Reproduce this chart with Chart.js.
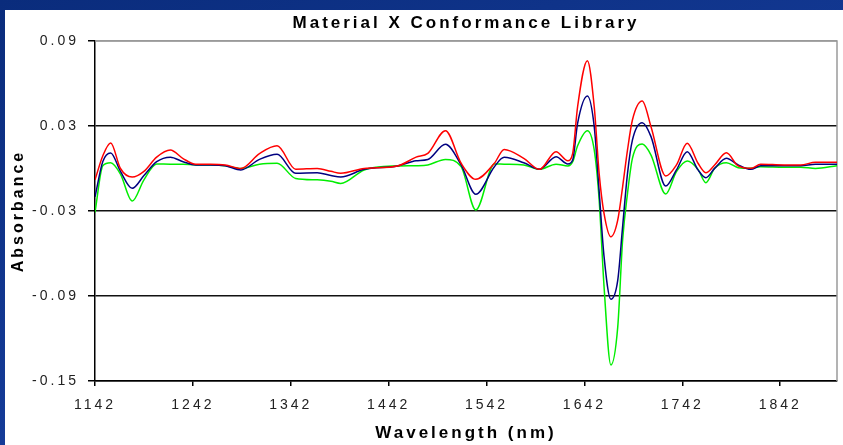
<!DOCTYPE html>
<html>
<head>
<meta charset="utf-8">
<script src="https://cdn.jsdelivr.net/npm/chart.js@4/dist/chart.umd.min.js"></script>
<style>
  html, body { margin: 0; padding: 0; }
  body {
    width: 843px; height: 445px; overflow: hidden; position: relative;
    background: linear-gradient(160deg, #0a2c7c 0%, #143a96 55%, #2148aa 100%);
  }
  #panel { position: absolute; left: 5px; top: 10px; right: 0; bottom: 0; background: #fff; }
  #c { position: absolute; left: 0; top: 0; }
</style>
</head>
<body>
<div id="panel"></div>
<canvas id="c" width="843" height="445"></canvas>
<script>
var wavelengths = [1142, 1150, 1158, 1168, 1180, 1192, 1205, 1219, 1232, 1245,
  1260, 1275, 1291, 1310, 1328, 1347, 1369, 1383, 1393, 1417,
  1451, 1470, 1482, 1500, 1516, 1531, 1550, 1560, 1580, 1596,
  1613, 1625, 1630, 1635, 1645, 1652, 1657, 1662, 1669, 1676,
  1681, 1686, 1691, 1701, 1710, 1725, 1736, 1747, 1758, 1766,
  1775, 1787, 1799, 1812, 1822, 1846, 1863, 1878, 1900];

var redSeries = [-0.008, 0.009, 0.018, 0.000, -0.006, -0.002, 0.008, 0.013, 0.007, 0.003,
  0.003, 0.0025, 0.000, 0.0105, 0.016, -0.0005, 0.000, -0.002, -0.0034, 0.000,
  0.0018, 0.008, 0.0107, 0.0267, 0.0037, -0.0076, 0.0037, 0.0135, 0.0072, -0.0006,
  0.0119, 0.0055, 0.0107, 0.0436, 0.0761, 0.0436, -0.0034, -0.0316, -0.0481, -0.0364,
  -0.0129, 0.0131, 0.0342, 0.0476, 0.0295, -0.0053, 0.0025, 0.0178, 0.0037, -0.003,
  0.0025, 0.0111, 0.0018, 0.0001, 0.003, 0.0025, 0.0025, 0.0044, 0.0044];

var blueSeries = [-0.020, 0.005, 0.011, -0.002, -0.014, -0.005, 0.0048, 0.008, 0.0048, 0.0025,
  0.0025, 0.002, -0.001, 0.0064, 0.010, -0.0034, -0.003, -0.005, -0.006, -0.0006,
  0.0018, 0.0055, 0.0064, 0.0171, 0.0025, -0.0182, 0.0013, 0.0079, 0.0041, -0.0006,
  0.0083, 0.0032, 0.006, 0.0319, 0.0512, 0.0295, -0.016, -0.062, -0.0923, -0.079,
  -0.041, -0.0034, 0.020, 0.0323, 0.0225, -0.0124, -0.001, 0.0119, -0.001, -0.0065,
  0.0001, 0.0072, 0.0025, -0.0006, 0.002, 0.002, 0.002, 0.003, 0.003];

var greenSeries = [-0.031, 0.002, 0.004, -0.004, -0.023, -0.008, 0.0032, 0.003, 0.003, 0.0025,
  0.0025, 0.002, 0.000, 0.003, 0.0037, -0.007, -0.008, -0.009, -0.0105, -0.001,
  0.0018, 0.002, 0.0025, 0.0064, 0.0013, -0.0293, 0.0032, 0.003, 0.0025, -0.0006,
  0.003, 0.0018, 0.0048, 0.016, 0.0267, 0.0131, -0.022, -0.083, -0.1387, -0.112,
  -0.0505, -0.0175, 0.0072, 0.0173, 0.0095, -0.018, -0.0022, 0.0053, -0.0006, -0.010,
  0.0001, 0.0041, 0.0006, 0.0001, 0.0013, 0.0009, 0.0009, 0.000, 0.002];

var xTicks = [1142, 1242, 1342, 1442, 1542, 1642, 1742, 1842];
var yTicks = [-0.15, -0.09, -0.03, 0.03, 0.09];

function points(vals) {
  return wavelengths.map(function (w, i) { return { x: w, y: vals[i] }; });
}

Chart.defaults.font.family = 'Arial, "Liberation Sans", sans-serif';
Chart.defaults.color = '#222';

// wide letter spacing like the original picture
var spacing = {
  id: 'spacing',
  beforeLayout: function (chart) { chart.ctx.letterSpacing = '3px'; },
  beforeDraw: function (chart) { chart.ctx.letterSpacing = '3px'; }
};

// grey frame on top and right of plot
var frame = {
  id: 'frame',
  beforeDatasetsDraw: function (chart) {
    var ctx = chart.ctx, a = chart.chartArea;
    ctx.save();
    ctx.strokeStyle = '#9a9a9a';
    ctx.lineWidth = 1.5;
    ctx.beginPath();
    ctx.moveTo(a.left, a.top);
    ctx.lineTo(a.right, a.top);
    ctx.lineTo(a.right, a.bottom);
    ctx.stroke();
    ctx.restore();
  }
};

new Chart(document.getElementById('c').getContext('2d'), {
  type: 'line',
  data: {
    datasets: [
      { data: points(redSeries), borderColor: '#ff0000' },
      { data: points(blueSeries), borderColor: '#000080' },
      { data: points(greenSeries), borderColor: '#00ee00' }
    ]
  },
  options: {
    responsive: false,
    animation: false,
    devicePixelRatio: 1,
    layout: { padding: { left: 0, right: 6, top: 0, bottom: 0 } },
    elements: {
      point: { radius: 0 },
      line: { borderWidth: 1.5, cubicInterpolationMode: 'monotone', fill: false }
    },
    plugins: { legend: { display: false }, tooltip: { enabled: false } },
    scales: {
      x: {
        type: 'linear', position: 'bottom', min: 1142, max: 1900,
        afterBuildTicks: function (s) { s.ticks = xTicks.map(function (v) { return { value: v }; }); },
        afterFit: function (s) { s.height = 64; },
        ticks: { autoSkip: false, maxRotation: 0, padding: 11, font: { size: 14 },
          callback: function (v) { return String(v); } },
        grid: { drawOnChartArea: false, tickLength: 5, color: '#000', lineWidth: 1.5 },
        border: { color: '#000', width: 1.5 },
        title: { display: true, text: 'Wavelength (nm)', color: '#000',
          font: { size: 17, weight: 'bold' }, padding: { top: 0, bottom: 1 } }
      },
      x2: {
        type: 'linear', position: 'top', min: 1142, max: 1900,
        afterFit: function (s) { s.height = 41; },
        ticks: { display: false },
        grid: { display: false },
        border: { display: false },
        title: { display: true, text: 'Material X Conformance Library', color: '#000',
          font: { size: 17, weight: 'bold' }, padding: { top: 13, bottom: 0 } }
      },
      y: {
        min: -0.15, max: 0.09,
        afterBuildTicks: function (s) { s.ticks = yTicks.map(function (v) { return { value: v }; }); },
        afterFit: function (s) { s.width = 95; },
        ticks: { padding: 9, font: { size: 14 },
          callback: function (v) { return v.toFixed(2); } },
        grid: {
          lineWidth: 1.5, tickLength: 7, tickColor: '#000',
          color: function (c) { return c.index === yTicks.length - 1 ? '#9a9a9a' : '#111'; }
        },
        border: { color: '#000', width: 1.5 },
        title: { display: true, text: 'Absorbance', color: '#000',
          font: { size: 16, weight: 'bold' }, padding: { top: 9, bottom: 0 } }
      }
    }
  },
  plugins: [spacing, frame]
});
</script>
</body>
</html>
